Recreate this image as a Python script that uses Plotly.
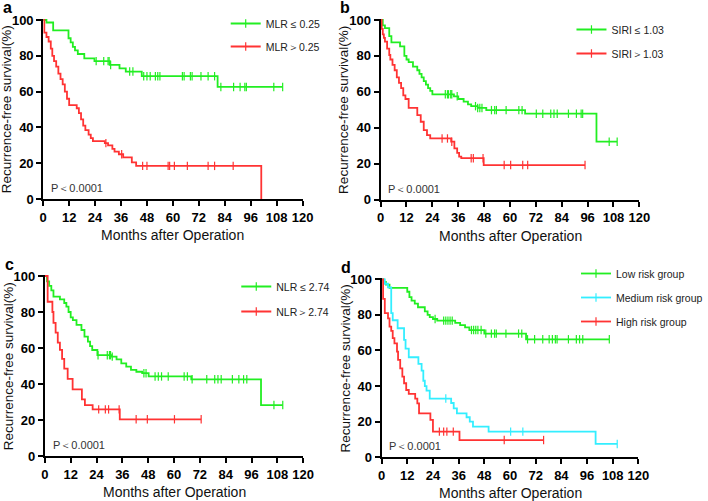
import numpy as np
import plotly.graph_objects as go

W, H = 708, 501

GREEN = "#22EE22"
RED = "#FF3333"
CYAN = "#33EEFF"

# ---------------- Panel a: MLR ----------------
a_low_t = [0, 1.5, 4.6, 11.7, 12.7, 13.7, 14.7, 16, 19, 23.7, 30.8, 35.3, 38.2, 45.6, 80.7, 110.8]
a_low_s = [100, 98.6, 94.2, 89.8, 87.5, 85, 83, 81, 78.6, 77, 74.9, 73, 71.2, 68.6, 62.6, 62.6]
a_low_c = [24.5, 28, 30, 30.5, 31.2, 40, 41.5, 46.5, 48, 49.5, 51.9, 53, 54, 64.4, 65.2, 68.1, 68.9, 73, 76.3, 79.3,
           82.2, 88.1, 91.1, 93.3, 94, 106.7, 110.8]
a_high_t = [0, 0.5, 1.5, 2.5, 3.5, 4.2, 5, 6, 7, 8, 9, 10, 11, 12, 15.5, 16.5, 17.5, 18.5, 19.5, 21, 22, 23, 28.5,
            30, 32, 33, 35, 37, 41, 43, 100.9, 100.9]
a_high_s = [100, 93, 90.5, 88, 84, 80, 77, 74, 70, 67, 64, 60, 56, 52.5, 50.7, 48, 44.5, 41, 38.5, 36, 34, 32.3, 31.2,
            30, 28, 26.5, 25, 23.2, 20.5, 18.5, 0, 0]
a_high_c = [29, 36.3, 46, 48, 57.8, 58.5, 60.7, 66.7, 76.3, 79.3, 87.9]

# ---------------- Panel b: SIRI ----------------
b_low_t = [0, 1, 2, 4, 5, 9, 11, 12, 13, 15, 17, 18, 19, 20, 21, 22, 23, 24, 34, 36, 38.5, 40.5, 42, 45, 49, 67,
           100.1, 109.7]
b_low_s = [100, 97, 95.5, 91, 87.5, 85.3, 80, 78, 76.5, 74, 72, 70, 68, 66, 64, 62, 60.5, 58.6, 57.5, 56, 54.5, 53,
           52, 51, 49.8, 47.8, 32.2, 32.2]
b_low_c = [30, 31, 31.5, 32.5, 33, 35.5, 44, 45, 46, 47, 51.4, 52.9, 53.7, 58.2, 64.1, 65.6, 72.2, 75.2, 78.9, 80.4,
           81.9, 87.1, 90.8, 93, 93.7, 106, 109.7]
b_high_t = [0, 0.5, 1, 1.5, 2, 3, 4, 4.5, 5.5, 6.5, 7.5, 8.5, 9.5, 10.5, 11.5, 13, 17, 18.6, 20, 21.5, 23, 32.7,
            34.2, 35.5, 36.4, 37.4, 47.8, 94.8]
b_high_s = [100, 95, 92, 90, 88, 84, 80.5, 78, 75, 72, 68, 65, 62, 58, 56, 51, 47, 43.3, 38.7, 35.9, 34, 32.2, 28.5,
            26, 23.9, 23, 19.2, 19.2]
b_high_c = [28.5, 31, 33, 42, 43, 47.5, 57.3, 60.3, 65.9, 68.2, 94.8]

# ---------------- Panel c: NLR ----------------
c_low_t = [0, 1, 2, 3, 4, 7, 9, 10, 11, 12, 13, 14.7, 17, 18.4, 20, 21, 22, 24.4, 31, 33.3, 35.5, 37.8, 40, 42.5,
           45.2, 48.2, 68, 100.4, 110.5]
c_low_s = [100, 97, 94.5, 92, 88.5, 87, 85, 83, 80, 77, 75.5, 72.8, 70, 66.3, 63.5, 61, 58.9, 56, 55.2, 53.7, 51.5,
           49.6, 47.8, 46.8, 46, 44.2, 42.6, 28.3, 28.3]
c_low_c = [24.7, 29, 30, 30.5, 31.3, 46, 47, 51.2, 52.7, 54.2, 57.3, 64.7, 66.2, 68.4, 75.2, 78.9, 80.4, 81.9, 87.1,
           90.1, 92.3, 93.8, 106.4, 110.5]
c_high_t = [0, 1.3, 3.5, 4, 5, 6, 7, 8, 9, 10.6, 12.9, 17.2, 18.6, 22.2, 34.8, 72.6]
c_high_s = [100, 85.7, 80, 74, 68.5, 63, 59, 54, 48.5, 42.8, 37, 31.5, 28.3, 25.9, 20.4, 20.4]
c_high_c = [25, 28.1, 29.6, 34.5, 42.4, 47.6, 60.2, 72.6]

# ---------------- Panel d: risk groups ----------------
d_low_t = [0, 1, 2, 3.7, 12, 13, 14, 15.5, 17, 20.2, 21.5, 22.5, 24, 26, 34.4, 36.7, 39, 41, 48, 67.5, 106.4]
d_low_s = [100, 98.5, 97, 95.2, 93, 90, 88, 86.3, 84.3, 82, 80, 78.7, 77.7, 76.8, 75.5, 74.3, 73, 71.5, 69.5, 66.3,
           66.3]
d_low_c = [25, 29, 30, 31, 32, 33, 42, 43, 44, 45, 46.5, 48.7, 51.3, 52.8, 53.6, 58.1, 64, 65.5, 68.2, 71.5, 75.3,
           78.3, 79.8, 81.2, 82, 87.3, 91, 92.5, 94, 106.4]
d_med_t = [0, 1.5, 3, 4.5, 5.2, 7.5, 10.5, 11.2, 12.7, 17.2, 18.7, 19.5, 20.2, 21, 22.5, 32.5, 33.7, 35.2, 39.7,
           41.2, 42.7, 50, 100, 110.1]
d_med_s = [100, 97.5, 95.5, 81, 77, 72.5, 66, 61, 56.2, 52.5, 48.7, 43, 40, 37.5, 33, 30.5, 27.5, 24.7, 22.5, 20,
           17.2, 14.4, 7.5, 7.5]
d_med_c = [30, 60.3, 66, 110.1]
d_high_t = [0, 0.7, 1.5, 3, 3.7, 4.5, 5.2, 6, 7.2, 7.7, 8.7, 9.7, 10.5, 11.5, 12.7, 15.7, 16.7, 17.5, 22.8, 24,
            36.4, 75.7]
d_high_s = [100, 89, 81, 78, 73.4, 71, 67, 64, 59.4, 54.7, 50, 45.3, 41.6, 37.8, 35.6, 33, 30.3, 24.7, 21, 14.4,
            9.7, 9.7]
d_high_c = [27, 29, 30.5, 33.5, 57.3, 75.7]

# labels
a_names = ["MLR ≤ 0.25", "MLR＞0.25"]
b_names = ["SIRI ≤ 1.03", "SIRI＞1.03"]
c_names = ["NLR ≤ 2.74", "NLR＞2.74"]
d_names = ["Low risk group", "Medium risk group", "High risk group"]
panel_letters = ["a", "b", "c", "d"]
x_ticks = list(range(0, 121, 12))
y_ticks = list(range(0, 101, 20))
p_text = "P＜0.0001"

# panel pixel geometry: x0px, x120px, y0px, y100px
geo = [
    (45.0, 315.0, 199.0, 20.0),
    (396.3, 665.7, 199.5, 20.0),
    (46.7, 315.7, 456.0, 276.0),
    (397.3, 664.7, 457.3, 279.3),
]
YMAX = 100.8

panels = [
    [(a_low_t, a_low_s, a_low_c, GREEN, a_names[0]), (a_high_t, a_high_s, a_high_c, RED, a_names[1])],
    [(b_low_t, b_low_s, b_low_c, GREEN, b_names[0]), (b_high_t, b_high_s, b_high_c, RED, b_names[1])],
    [(c_low_t, c_low_s, c_low_c, GREEN, c_names[0]), (c_high_t, c_high_s, c_high_c, RED, c_names[1])],
    [(d_low_t, d_low_s, d_low_c, GREEN, d_names[0]), (d_med_t, d_med_s, d_med_c, CYAN, d_names[1]),
     (d_high_t, d_high_s, d_high_c, RED, d_names[2])],
]

legend_pos = [  # text-left px, first row center px, group gap
    (267, 23, 4),
    (627, 29, 5),
    (278, 286, 6),
    (632, 273, 5),
]


def surv_at(t, s, tc):
    t = np.asarray(t, float)
    s = np.asarray(s, float)
    idx = np.searchsorted(t, np.asarray(tc, float), side="right") - 1
    idx = np.clip(idx, 0, len(s) - 1)
    return s[idx]


fig = go.Figure()
layout = dict(
    width=W, height=H, margin=dict(l=0, r=0, t=0, b=0),
    paper_bgcolor="white", plot_bgcolor="white", showlegend=True,
    font=dict(family="Arial", color="black"),
)
annotations = []

for i, (series, (x0, x1, y0, y100)) in enumerate(zip(panels, geo)):
    k = i + 1
    sx = "" if k == 1 else str(k)
    leg = "legend" if k == 1 else f"legend{k}"
    pxpp = (y0 - y100) / 100.0
    ytop = y100 - (YMAX - 100) * pxpp
    layout[f"xaxis{sx}"] = dict(
        domain=[x0 / W, x1 / W], range=[0, 120], anchor=f"y{sx}",
        tickvals=x_ticks, showline=True, linecolor="black", linewidth=2,
        ticks="outside", ticklen=5, tickwidth=2, tickcolor="black",
        showgrid=False, zeroline=False, automargin=False,
        tickfont=dict(family="Arial", size=13, color="black", weight="bold"),
    )
    layout[f"yaxis{sx}"] = dict(
        domain=[1 - y0 / H, 1 - ytop / H], range=[0, YMAX], anchor=f"x{sx}",
        tickvals=y_ticks, showline=True, linecolor="black", linewidth=2,
        ticks="outside", ticklen=5, tickwidth=2, tickcolor="black",
        showgrid=False, zeroline=False, automargin=False,
        tickfont=dict(family="Arial", size=13, color="black", weight="bold"),
    )
    for j, (t, s, cens, col, name) in enumerate(series):
        fig.add_trace(go.Scatter(
            x=t, y=s, mode="lines", line=dict(color=col, width=1.8, shape="hv"),
            xaxis=f"x{sx}", yaxis=f"y{sx}", showlegend=False, hoverinfo="skip",
        ))
        fig.add_trace(go.Scatter(
            x=cens, y=surv_at(t, s, cens), mode="markers",
            marker=dict(symbol="line-ns", size=6, color=col, line=dict(color=col, width=1.2)),
            xaxis=f"x{sx}", yaxis=f"y{sx}", showlegend=False, cliponaxis=False, hoverinfo="skip",
        ))
        fig.add_trace(go.Scatter(
            x=[None], y=[None], mode="lines+markers", name=name,
            line=dict(color=col, width=1.8),
            marker=dict(symbol="line-ns", size=6, color=col, line=dict(color=col, width=1.2)),
            xaxis=f"x{sx}", yaxis=f"y{sx}", legend=leg, legendgroup=f"g{k}{j}", showlegend=True,
        ))
    tx, ty, gap = legend_pos[i]
    layout[leg] = dict(
        x=(tx - 32) / W, y=1 - (ty - 14) / H, xanchor="left", yanchor="top",
        bgcolor="rgba(0,0,0,0)", borderwidth=0, tracegroupgap=gap,
        font=dict(family="Arial", size=10.5, color="#222"), itemwidth=30,
    )
    # panel letter
    annotations.append(dict(
        text=f"<b>{panel_letters[i]}</b>", xref="paper", yref="paper",
        x=(x0 - 44) / W, y=1 - (y100 - 12) / H, xanchor="left", yanchor="middle",
        showarrow=False, font=dict(family="Arial", size=16, color="black"),
    ))
    # y title
    annotations.append(dict(
        text="Recurrence-free survival(%)", xref="paper", yref="paper",
        x=(x0 - 38) / W, y=1 - ((y0 + y100) / 2) / H, xanchor="center", yanchor="middle",
        textangle=-90, showarrow=False, font=dict(family="Arial", size=13.5, color="#111"),
    ))
    # x title
    annotations.append(dict(
        text="Months after Operation", xref="paper", yref="paper",
        x=((x0 + x1) / 2) / W, y=1 - (y0 + 36) / H, xanchor="center", yanchor="middle",
        showarrow=False, font=dict(family="Arial", size=14, color="#111"),
    ))
    # p value
    annotations.append(dict(
        text=p_text, xref="paper", yref="paper",
        x=(x0 + 6) / W, y=1 - (y0 - 11) / H, xanchor="left", yanchor="middle",
        showarrow=False, font=dict(family="Arial", size=11, color="#333"),
    ))

layout["annotations"] = annotations
fig.update_layout(**layout)
fig.write_html("out.html", config={"displayModeBar": False},
               post_script="document.body.style.margin='0';document.body.style.overflow='hidden';")
